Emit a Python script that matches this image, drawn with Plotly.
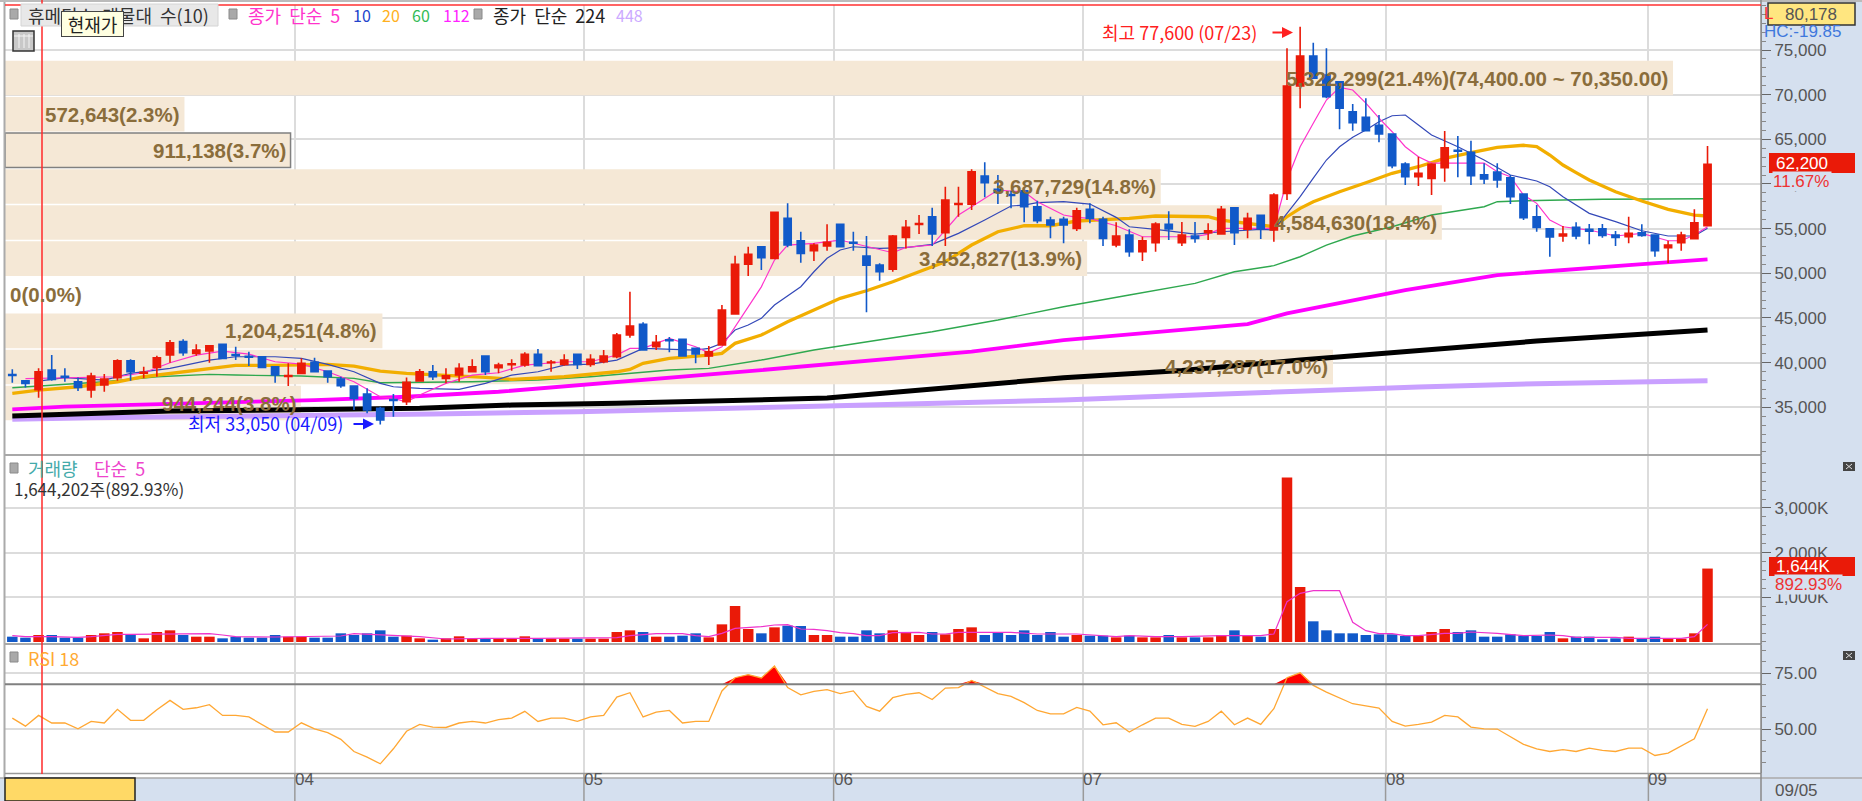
import numpy as np
import plotly.graph_objects as go

# Daily candles, 130 sessions (2025 months on the axis, last one 09/05)
open_prices = [38650,37960,36960,39160,38450,37850,36920,37480,38300,40200,
               38800,39460,40840,42340,41030,41290,42040,40900,40700,40650,
               39530,38440,38790,40020,39050,38150,37370,36470,34870,35850,
               35610,37930,38970,38230,38600,38970,40730,39420,39750,39720,
               40920,39970,39800,40920,39800,40090,40650,43080,44280,41780,
               42550,42600,41590,40730,41960,45430,51000,52970,51670,56140,
               53640,52520,53050,55480,53470,51930,50920,50440,54020,55460,
               56330,54540,57700,57720,60890,59400,58810,59240,57450,55960,
               56040,55030,57160,56040,53160,54280,52410,53420,55480,53420,
               54170,54540,54390,57340,54920,56490,54840,58950,70970,74330,
               72200,71450,68090,67460,66570,65590,62230,60810,60630,61820,
               63770,63540,61030,61340,60700,58870,56330,54990,54170,55140,
               54920,54990,54280,54090,54540,54280,52860,53420,53870,55320]
high_prices = [39240,38040,39350,40840,39350,38340,38860,38710,40360,40360,
               39530,40760,42520,42600,42040,41880,42040,41770,41220,40650,
               39530,39910,40470,40540,39050,38410,37370,37110,35050,36470,
               38340,39270,39720,39350,39910,40360,40730,39980,40360,41140,
               41520,40280,40920,40920,40920,41400,43300,47920,44500,43080,
               42860,42600,41590,41850,46440,51960,52970,52970,56820,57830,
               54640,53350,55480,55480,54640,54170,51110,54280,55960,56520,
               57340,59690,59690,61640,62420,61000,59240,59240,58120,56330,
               56330,57340,57830,56330,55700,54920,54090,55700,56950,55730,
               55730,55590,57530,57340,56780,56490,58950,75190,77600,75820,
               75190,71450,68950,69590,67720,65590,62420,63050,62310,65930,
               65370,64840,62310,62310,61000,58870,57640,54990,55290,55700,
               55510,55510,54730,56330,55480,54300,53640,54640,57160,64250]
low_prices = [37740,37220,36060,37960,37850,36810,36060,36730,37960,37960,
              38230,38410,39980,40760,40760,39980,40470,40280,39620,39460,
              37740,37370,38790,38970,37740,37180,34680,34310,33050,33930,
              35240,37930,38040,37670,37850,38970,38600,38790,39080,39530,
              39640,38970,39640,39270,39530,39910,40470,42780,41400,41400,
              41140,40730,39910,39720,41960,45430,49690,50360,51670,52900,
              51180,51370,52520,52970,52520,45620,49160,50170,52780,54390,
              53050,53050,56330,57080,58500,57750,57270,55700,55590,53910,
              53350,54730,55590,53050,52900,51850,51370,52410,53720,53050,
              53420,53720,54390,53160,53910,53830,53530,58200,68470,71830,
              69590,66120,65960,65960,64660,61750,59880,59770,58760,60250,
              60740,59880,59990,59580,57750,55960,54650,51850,53530,53800,
              53240,53980,53050,53350,54090,51850,51110,52520,53870,55320]
close_prices = [38550,37670,38970,38120,38350,37220,38490,38150,40200,38970,
                38900,40540,42220,41100,41400,41880,40470,40800,40600,39460,
                38600,38540,39910,38970,38410,37400,35990,34680,33560,35750,
                37780,38970,38410,38520,39350,39530,38970,39720,39850,40920,
                39640,40070,40280,39800,40360,40730,43080,44090,41400,42270,
                42450,40730,40950,41210,45880,51000,52120,51740,56820,53160,
                52230,53160,53460,52970,53370,50900,50170,54170,55140,55560,
                54390,58200,57800,61370,60140,59060,58710,57450,55880,55400,
                55400,57000,56150,53910,54170,52410,53640,55510,54950,54280,
                53910,54760,57160,54540,56150,55030,58760,70970,74330,71830,
                69770,68470,66860,65960,65590,62040,60810,61190,62200,64060,
                63670,60920,60550,60440,58570,56220,55140,54060,54390,54170,
                54700,54240,54020,54470,54240,52520,53160,54280,55660,62200]

# Moving averages (session index, price)
ma5_x = [1,5,8,10,12,14,16,18,20,22,24,26,28,29,30,31,33,35,37,39,42,44,46,47,48,50,52,53,54,57,58,59,61,
         63,65,67,68,70,71,72,73,74,75,76,77,78,79,80,81,82,84,85,86,88,90,91,92,95,96,97,98,99,100,101,
         102,103,104,105,106,107,108,109,112,113,114,115,116,117,118,120,122,124,126,127,128,129]
ma5_y = [38190,38310,38410,38860,39980,40840,41290,40950,40090,39830,38970,37850,36170,35990,35610,36360,37670,38600,38860,39720,40090,40090,40840,41590,41590,42710,41770,41100,41770,48480,51480,53160,53350,
         53720,52970,52300,52900,53160,54840,56520,57450,58390,59320,59200,59130,58010,57270,56520,56260,56150,55320,54730,54090,54090,54090,54390,55030,55030,55030,60440,64170,66790,69400,70820,
         70520,69050,67380,65850,64170,63050,62340,62340,62340,61370,60810,58760,57830,55960,55210,54840,54170,54470,53640,53640,54280,55210]
ma10_x = [2,4,7,9,12,15,17,20,22,24,26,28,29,31,34,36,38,40,42,44,46,48,52,53,54,55,56,57,58,60,61,62,63,64,66,68,70,72,74,76,77,78,80,82,84,85,87,90,92,95,
          96,97,98,99,100,101,102,103,104,105,106,107,108,110,112,114,116,117,118,120,122,124,126,128,129]
ma10_y = [37930,38310,38040,38790,39350,40280,40650,40650,40470,39800,38970,37670,37290,37110,37000,37670,38600,38970,39720,39830,40280,41590,41400,41590,42150,43640,44200,44950,46440,48490,50170,51670,52600,52970,52780,52860,53240,54470,55960,57530,57640,57900,58010,57750,56260,55210,54920,54390,54650,54920,
          54840,56710,58570,60660,62680,64170,65220,66040,66970,67640,67720,66600,65480,64170,62680,61000,60330,59690,58570,56710,55780,54760,54170,54170,55030]
ma20_x = [0,2,5,8,10,12,15,17,20,24,26,28,30,33,36,38,42,46,47,48,50,53,54,55,57,59,61,63,65,67,69,71,73,75,77,79,81,85,87,91,92,94,95,
          96,97,98,99,101,103,105,107,109,111,113,115,116,117,118,119,120,122,124,126,128,129]
ma20_y = [36550,36920,37290,37850,38410,38790,39350,39690,39690,39800,39610,39050,38790,38600,38340,38120,38410,38970,39230,39910,40470,40840,41030,42150,43080,44560,45880,47190,48040,49050,50170,51290,53160,54650,55320,55320,55850,56150,56410,56330,55960,55590,55400,
          55210,56330,57270,58010,59130,60140,61190,61930,62870,63500,64100,64330,64170,63240,62120,61260,60440,59130,58090,57160,56520,56410]
ma60_x = [0,3,7,11,15,17,22,26,28,35,40,44,47,50,53,57,61,66,70,75,80,85,90,93,96,98,100,102,105,108,112,113,115,121,129]
ma60_y = [37180,37480,37850,38410,38680,38600,38490,38230,37740,37850,38040,38410,38790,39160,39350,40280,41400,42520,43450,44760,46250,47560,48870,50170,50850,51850,53160,54170,55210,56520,57450,58010,58120,58280,58350]
ma112_x = [0,4,23,30,37,45,48,57,73,80,94,97,106,113,123,129]
ma112_y = [34760,35060,35800,36170,36730,37670,38040,39160,41220,42520,44300,45500,48120,49800,50920,51560]
ma224_x = [0,6,12,31,38,46,62,80,89,98,107,116,129]
ma224_y = [34010,34310,34570,34870,35240,35430,36020,38300,39100,40280,41400,42410,43640]
ma448_x = [0,6,32,43,62,80,89,98,107,116,129]
ma448_y = [33640,33830,34230,34490,35130,35800,36320,36810,37250,37640,37970]

# Price-volume bands (shares per price level) and their labels
profile_price = [71860,67810,63770,59720,55680,51640,47600,43550,39510,35470]
profile_volume = [5322299,572643,911138,3687729,4584630,3452827,0,1204251,4237287,944244]
profile_text = ["5,322,299(21.4%)(74,400.00 ~ 70,350.00)","572,643(2.3%)","911,138(3.7%)","3,687,729(14.8%)",
                "4,584,630(18.4%)","3,452,827(13.9%)","0(0.0%)","1,204,251(4.8%)","4,237,287(17.0%)","944,244(3.8%)"]

# Volume in thousands of shares
volume = [119,97,157,157,97,97,157,194,224,172,82,224,261,157,119,119,82,119,97,97,
          157,119,119,97,97,194,157,194,261,119,142,82,52,82,127,75,75,75,75,127,
          75,75,75,75,75,75,224,261,224,119,119,142,194,104,395,806,291,194,328,366,
          358,157,157,119,119,261,194,261,224,157,224,172,291,328,157,209,157,261,157,224,
          119,157,142,142,104,142,104,104,157,104,104,104,157,261,142,119,291,3685,1231,463,
          261,194,194,157,172,172,134,134,224,291,224,261,119,119,172,134,134,224,82,119,
          119,60,82,119,75,119,75,75,194,1644]
vol_ma5_x = [0,1,3,5,6,8,9,11,13,15,16,17,20,25,26,28,30,31,33,36,40,46,47,49,51,52,53,54,55,57,58,59,60,61,62,63,64,65,66,67,69,70,71,72,76,78,81,84,85,87,89,92,95,
             96,97,98,99,101,102,103,104,105,106,107,109,110,111,112,113,115,117,118,119,122,123,124,127,128,129]
vol_ma5_y = [142,119,119,104,119,172,172,179,187,187,157,119,112,134,187,157,142,119,67,82,82,97,142,187,187,142,119,194,306,343,380,388,291,283,254,209,187,142,142,209,216,179,179,216,216,179,179,119,142,119,119,142,142,
             179,903,1089,1149,1149,440,254,187,187,142,142,194,194,224,216,194,142,157,142,104,104,82,82,82,119,395]

# RSI 18
rsi = [54.9,51.3,56.1,52.7,52.7,50.1,53.4,52.7,58.8,53.9,53.9,58.6,62.8,58.8,59.5,60.9,56.1,56.1,55.4,52.1,
       48.7,48.7,52.8,50.1,48.4,45.4,40.0,37.5,34.5,41.2,49.0,52.1,50.9,50.7,52.7,53.4,52.7,54.2,54.9,57.9,
       53.4,54.9,54.9,53.4,55.4,56.1,64.3,66.2,55.4,57.6,58.3,52.7,53.4,53.4,67.0,72.9,74.3,72.8,78.1,68.5,
       65.3,66.8,67.6,65.8,67.0,60.1,58.0,64.0,65.5,66.2,63.2,68.3,68.5,71.7,68.7,65.8,64.6,61.8,58.3,56.8,
       56.8,59.7,58.0,51.9,52.8,48.7,51.9,54.9,54.9,52.1,51.2,53.4,58.0,51.9,54.9,52.1,59.1,72.9,75.1,69.5,
       66.5,64.0,61.3,60.3,59.4,53.4,51.3,52.1,53.1,56.1,55.4,50.9,50.1,50.0,46.7,43.2,41.2,40.0,40.8,40.0,
       41.5,40.5,40.0,41.5,41.5,38.2,39.3,42.4,45.7,59.1]

# Axis ticks
month_ticks = [21.5,43.5,62.5,81.5,104.5,124.5]
month_labels = ["04","05","06","07","08","09"]
price_ticks = [35000,40000,45000,50000,55000,60000,65000,70000,75000]
volume_ticks = [1000,2000,3000]
volume_tick_labels = ["1,000K","2,000K","3,000K"]
rsi_ticks = [50,75]
rsi_tick_labels = ["50.00","75.00"]

W, H = 1862, 801
RED, BLUE = "#ea1a08", "#1159c9"
PANEL = "#d5e0ef"
GRID = "#dcdcdc"
KR = "Noto Sans CJK KR"
LAT = "Liberation Sans"
GAP = "\u00a0\u00a0"


def fx(px):
    return px / W


def fy(py):
    return 1 - py / H


idx = list(range(len(close_prices)))
fig = go.Figure()

# base layer: volume-at-price bars
fig.add_trace(go.Bar(x=profile_volume, y=profile_price, orientation="h", width=3870,
                     xaxis="x", yaxis="y",
                     marker=dict(color="#f5e8d6",
                                 line=dict(color=["#808080" if v == 911138 else "rgba(0,0,0,0)" for v in profile_volume],
                                           width=1.5))))

# moving averages sit under the candles
for xs, ys, color, lw in [(ma448_x, ma448_y, "#c9a0ff", 5), (ma224_x, ma224_y, "#000000", 5),
                          (ma112_x, ma112_y, "#ff00ff", 3.8), (ma60_x, ma60_y, "#2fa84f", 1.4),
                          (ma20_x, ma20_y, "#f2ae00", 3.3), (ma10_x, ma10_y, "#3348b8", 1.2),
                          (ma5_x, ma5_y, "#ff33cc", 1.2)]:
    fig.add_trace(go.Scatter(x=xs, y=ys, mode="lines", xaxis="x2", yaxis="y",
                             line=dict(color=color, width=lw)))

fig.add_trace(go.Candlestick(x=idx, open=open_prices, high=high_prices, low=low_prices, close=close_prices,
                             xaxis="x2", yaxis="y4", whiskerwidth=0,
                             increasing=dict(line=dict(color=RED, width=1.6), fillcolor=RED),
                             decreasing=dict(line=dict(color=BLUE, width=1.6), fillcolor=BLUE)))

# volume panel
bar_colors = [RED if c >= o else BLUE for o, c in zip(open_prices, close_prices)]
fig.add_trace(go.Bar(x=idx, y=volume, width=0.8, marker_color=bar_colors, marker_line_width=0,
                     xaxis="x2", yaxis="y2"))
fig.add_trace(go.Scatter(x=vol_ma5_x, y=vol_ma5_y, mode="lines", xaxis="x2", yaxis="y2",
                         line=dict(color="#ee33cc", width=1.2)))

# RSI panel, red above 70
fig.add_trace(go.Scatter(x=idx, y=[70] * len(idx), mode="lines", xaxis="x2", yaxis="y3",
                         line=dict(width=0)))
fig.add_trace(go.Scatter(x=idx, y=np.maximum(rsi, 70), mode="lines", xaxis="x2", yaxis="y3",
                         line=dict(width=0), fill="tonexty", fillcolor="#ff0000"))
fig.add_trace(go.Scatter(x=idx, y=rsi, mode="lines", xaxis="x2", yaxis="y3",
                         line=dict(color="#ffa733", width=1.3)))

price_range = [29648, 80039]
x_range = [-0.556, 133.07]
tickstyle = dict(side="right", anchor="x2", showgrid=True, gridcolor=GRID, gridwidth=2, zeroline=False,
                 ticks="outside", ticklen=9, tickcolor="#666", showline=True, linecolor="#999", linewidth=1,
                 tickfont=dict(family=LAT, size=17, color="#555"))


def minor(step):
    return dict(tickmode="linear", tick0=0, dtick=step, ticks="outside", ticklen=4, tickcolor="#888", showgrid=False)


fig.update_layout(
    width=W, height=H, margin=dict(l=0, r=0, t=0, b=0), boxgap=0.22,
    paper_bgcolor=PANEL, plot_bgcolor="white", showlegend=False, hovermode=False,
    xaxis=dict(domain=[fx(5), fx(1761)], range=[0, 5603000], visible=False, anchor="y"),
    xaxis2=dict(domain=[fx(5), fx(1761)], range=x_range, overlaying="x", anchor="y3", tickmode="array",
                tickvals=month_ticks, ticks="", showticklabels=False, showgrid=True, gridcolor=GRID, gridwidth=2,
                zeroline=False, rangeslider=dict(visible=False)),
    yaxis=dict(domain=[fy(455), fy(5)], range=price_range, tickmode="array", tickvals=price_ticks,
               tickformat=",d", minor=minor(1000), **{**tickstyle, "anchor": "x"}),
    yaxis4=dict(range=price_range, overlaying="y", visible=False, anchor="x2", side="right"),
    yaxis2=dict(domain=[fy(644), fy(456)], range=[-45, 4164], tickmode="array", tickvals=volume_ticks,
                ticktext=volume_tick_labels, minor=minor(200), **tickstyle),
    yaxis3=dict(domain=[fy(773), fy(645)], range=[30.4, 87.5], tickmode="array", tickvals=rsi_ticks,
                ticktext=rsi_tick_labels, minor=minor(5), **tickstyle),
)

shapes = []


def rect(x0, y0, x1, y1, fill, line=None, lw=1, layer="above"):
    shapes.append(dict(type="rect", xref="paper", yref="paper", x0=fx(x0), x1=fx(x1), y0=fy(y0), y1=fy(y1),
                       fillcolor=fill, line=dict(color=line or fill, width=lw if line else 0), layer=layer))


def hline(y, x0, x1, color, lw=2):
    shapes.append(dict(type="line", xref="paper", yref="paper", x0=fx(x0), x1=fx(x1), y0=fy(y), y1=fy(y),
                       line=dict(color=color, width=lw), layer="above"))


def vline(x, y0, y1, color, lw=1):
    shapes.append(dict(type="line", xref="paper", yref="paper", x0=fx(x), x1=fx(x), y0=fy(y0), y1=fy(y1),
                       line=dict(color=color, width=lw), layer="above"))


# frame around the panels
rect(0, 0, 5, 778, "white", layer="below")
rect(0, 773, 1761, 778, "white", layer="below")
rect(0, 0, 1761, 5, "white", layer="below")
vline(4.5, 0, 778, "#aaaaaa", 2)
hline(1, 0, W, "#bbbbbb", 2)
hline(455, 5, 1761, "#a8a8a8", 2)
hline(644, 5, 1761, "#a8a8a8", 2)
hline(773.5, 5, 1761, "#999999", 1.5)
hline(778, 0, W, "#aaaaaa", 1.5)
vline(1761, 0, H, "#888888", 1.5)
hline(5, 5, 1761, "#ff3030", 1.5)

# overbought level across the whole RSI panel
shapes.append(dict(type="line", xref="paper", yref="y3", x0=fx(5), x1=fx(1761), y0=70, y1=70,
                   line=dict(color="#808080", width=2), layer="above"))
vline(42, 0, 774, "#ff2a2a", 1.5)

# month ticks in the bottom bar
for t in month_ticks:
    shapes.append(dict(type="line", xref="x2", yref="paper", x0=t, x1=t, y0=fy(773), y1=0,
                       line=dict(color="#9a9a9a", width=1.5), layer="above"))

rect(5, 778, 135, 801, "#ffd966", "#222222", 1.5)

# legend chips and calendar icon
rect(21, 4, 218, 26, "#e8e8e8", "#d4d4d4", 1)
for x, y in [(14, 14), (233, 14), (478, 14), (14, 468), (14, 657)]:
    rect(x - 4, y - 5, x + 4, y + 5, "#a9a9a9", "#8a8a8a", 1)
rect(13, 31, 34, 51, "#c8c8c8", "#333333", 1.5)
for x in [19, 24, 29]:
    vline(x, 34, 48, "#f4f4f4", 1)
hline(36, 14, 33, "#f4f4f4", 1)

# restore buttons on the lower panels
for y in [462, 651]:
    rect(1843, y, 1855, y + 9, "#444444")
    shapes.append(dict(type="line", xref="paper", yref="paper", x0=fx(1846), x1=fx(1852), y0=fy(y + 7), y1=fy(y + 2),
                       line=dict(color="#dddddd", width=1), layer="above"))
    shapes.append(dict(type="line", xref="paper", yref="paper", x0=fx(1846), x1=fx(1852), y0=fy(y + 2), y1=fy(y + 7),
                       line=dict(color="#dddddd", width=1), layer="above"))

# value boxes on the right
rect(1768, 3, 1855, 25, "#ffe680", "#333333", 1.5)
rect(1769, 153, 1855, 173, RED)
rect(1769, 557, 1855, 576, RED)

fig.update_layout(shapes=shapes)


def label(text, x, y, color, size=15, anchor="left", family=KR, **kw):
    fig.add_annotation(text=text, x=fx(x), y=fy(y), xref="paper", yref="paper", xanchor=anchor, yanchor="middle",
                       showarrow=False, font=dict(family=family, size=size, color=color), borderpad=0, **kw)


# legends
label("휴메딕스" + GAP + "매물대" + GAP + "수(10)", 27, 15, "#333333", 18)
label("종가" + GAP + "단순" + GAP + "5", 247, 15, "#ff33cc", 18)
label("10", 352, 15, "#2244cc", 16)
label("20", 381, 15, "#ffb020", 16)
label("60", 411, 15, "#33bb55", 16)
label("112", 442, 15, "#ff22ff", 16)
label("종가" + GAP + "단순" + GAP + "224", 492, 15, "#222222", 18)
label("448", 615, 15, "#ccaaff", 16)
label("거래량", 27, 468, "#44aaaa", 18)
label("단순" + GAP + "5", 93, 468, "#ee44cc", 18)
label("1,644,202주(892.93%)", 13, 488, "#333333", 17)
label("RSI 18", 27, 658, "#ffaa33", 18)

# tooltip over the cursor line
fig.add_annotation(text="현재가", x=fx(61), y=fy(24), xref="paper", yref="paper", xanchor="left", yanchor="middle",
                   showarrow=False, width=61, height=24, bgcolor="#ffffe1", bordercolor="#444444", borderwidth=1,
                   borderpad=0, font=dict(family=KR, size=18, color="#222222"))

# labels of the volume-at-price bars
for v, p, t in zip(profile_volume, profile_price, profile_text):
    fig.add_annotation(text="<b>" + t + "</b>", x=v, y=p, xref="x", yref="y", showarrow=False,
                       xanchor="right" if v > 0 else "left", xshift=-4 if v > 0 else 4,
                       font=dict(family=LAT, size=20.5, color="#8a6d3b"), borderpad=0)

# high / low markers
label("최고 77,600 (07/23)", 1258, 32, "#ff2020", 18, anchor="right")
label("최저 33,050 (04/09)", 344, 423, "#1a1aff", 18, anchor="right")
for x, y, color in [(1293, 32.5, "#ff2020"), (374, 424, "#1a1aff")]:
    fig.add_annotation(x=fx(x), y=fy(y), xref="paper", yref="paper", text="", showarrow=True, ax=-22, ay=0,
                       arrowhead=2, arrowsize=1.1, arrowwidth=2, arrowcolor=color)

# right-hand side readouts
label("L", 1763, 13, "#ff3333", 17, family=LAT)
label("80,178", 1811, 14, "#555555", 17, anchor="center", family=LAT)
label("HC:-19.85", 1763, 32, "#3f78dd", 17, family=LAT)
label("62,200", 1775, 163, "white", 17, family=LAT)
label("11.67%", 1772, 181, "#ee3333", 17, family=LAT, bgcolor=PANEL, width=58, align="left")
label("1,644K", 1775, 566, "white", 17, family=LAT)
label("892.93%", 1774, 584, "#ee3333", 17, family=LAT, bgcolor=PANEL)

# month labels and last date
for t, m in zip(month_ticks, month_labels):
    fig.add_annotation(text=m, x=t, y=fy(790), xref="x2", yref="paper", showarrow=False, xanchor="left", xshift=-1,
                       font=dict(family=LAT, size=17, color="#555555"), borderpad=0)
label("09/05", 1774, 790, "#555555", 17, family=LAT)

fig.write_html("out.html", config={"displayModeBar": False},
               post_script="document.body.style.margin='0';document.body.style.overflow='hidden';")
